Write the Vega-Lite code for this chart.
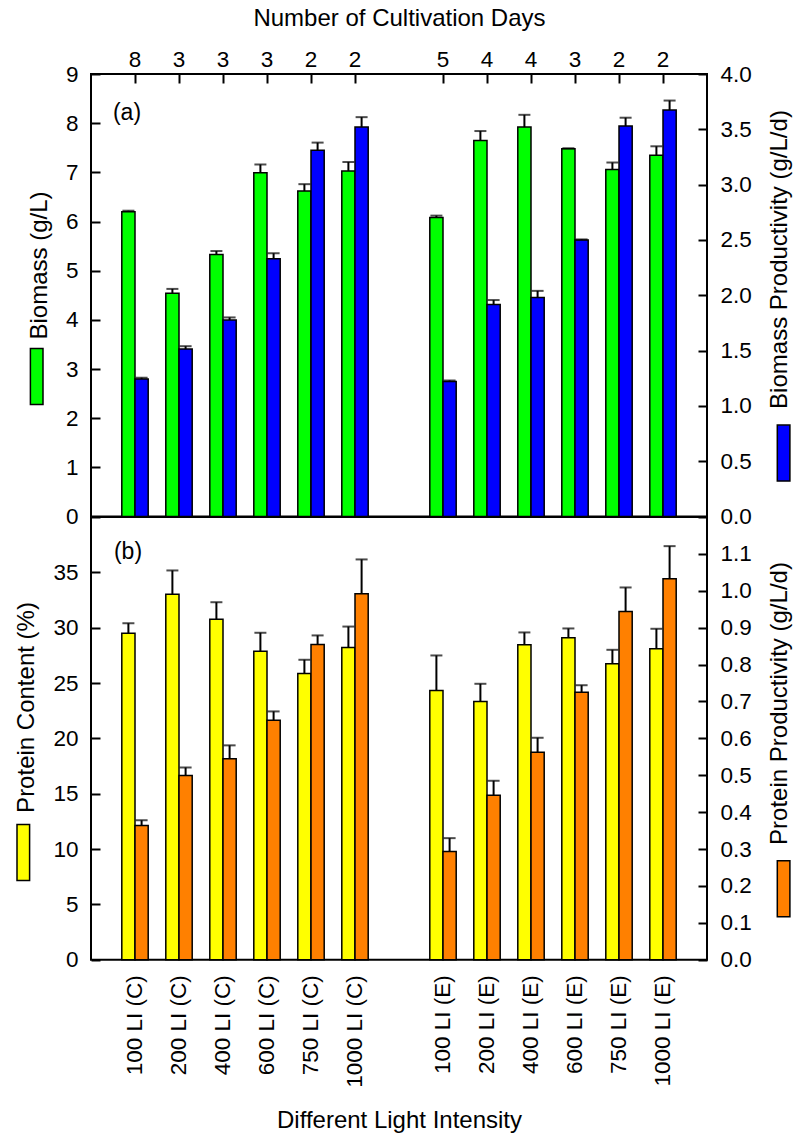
{
  "$schema": "https://vega.github.io/schema/vega-lite/v6.json",
  "padding": {"left": -7, "top": 5, "right": 0, "bottom": 0},
  "spacing": 0,
  "bounds": "flush",
  "config": {
    "font": "Liberation Sans",
    "view": {"stroke": "black", "strokeWidth": 2},
    "axis": {
      "labelFont": "Liberation Sans", "labelFontSize": 22.5, "labelColor": "black",
      "titleFont": "Liberation Sans", "titleFontSize": 24, "titleFontWeight": "normal", "titleColor": "black",
      "grid": false, "domain": false, "tickColor": "black", "tickWidth": 2, "tickSize": 9
    },
    "legend": {"orient": "none", "title": null, "labelOffset": 0, "padding": 0, "labelFontSize": 1, "labelOpacity": 0,
      "symbolType": "M-0.225,-1H0.225V1H-0.225Z", "symbolSize": 3136, "symbolStrokeColor": "black",
      "symbolStrokeWidth": 1.5, "symbolOpacity": 1}
  },
  "datasets": {
    "topL": [
      {"cat": "100 LI (C)", "s": "L", "v": 6.20, "hi": 6.22},
      {"cat": "200 LI (C)", "s": "L", "v": 4.54, "hi": 4.63},
      {"cat": "400 LI (C)", "s": "L", "v": 5.33, "hi": 5.40},
      {"cat": "600 LI (C)", "s": "L", "v": 6.99, "hi": 7.16},
      {"cat": "750 LI (C)", "s": "L", "v": 6.62, "hi": 6.76},
      {"cat": "1000 LI (C)", "s": "L", "v": 7.03, "hi": 7.21},
      {"cat": "100 LI (E)", "s": "L", "v": 6.08, "hi": 6.12},
      {"cat": "200 LI (E)", "s": "L", "v": 7.65, "hi": 7.84},
      {"cat": "400 LI (E)", "s": "L", "v": 7.92, "hi": 8.17},
      {"cat": "600 LI (E)", "s": "L", "v": 7.48, "hi": 7.49},
      {"cat": "750 LI (E)", "s": "L", "v": 7.06, "hi": 7.20},
      {"cat": "1000 LI (E)", "s": "L", "v": 7.35, "hi": 7.53}
    ],
    "topR": [
      {"cat": "100 LI (C)", "s": "R", "v": 1.244, "hi": 1.255},
      {"cat": "200 LI (C)", "s": "R", "v": 1.515, "hi": 1.54},
      {"cat": "400 LI (C)", "s": "R", "v": 1.777, "hi": 1.80},
      {"cat": "600 LI (C)", "s": "R", "v": 2.33, "hi": 2.38},
      {"cat": "750 LI (C)", "s": "R", "v": 3.31, "hi": 3.38},
      {"cat": "1000 LI (C)", "s": "R", "v": 3.52, "hi": 3.61},
      {"cat": "100 LI (E)", "s": "R", "v": 1.22, "hi": 1.23},
      {"cat": "200 LI (E)", "s": "R", "v": 1.916, "hi": 1.957},
      {"cat": "400 LI (E)", "s": "R", "v": 1.98, "hi": 2.04},
      {"cat": "600 LI (E)", "s": "R", "v": 2.50, "hi": 2.505},
      {"cat": "750 LI (E)", "s": "R", "v": 3.53, "hi": 3.605},
      {"cat": "1000 LI (E)", "s": "R", "v": 3.675, "hi": 3.76}
    ],
    "botL": [
      {"cat": "100 LI (C)", "s": "L", "v": 29.5, "hi": 30.4},
      {"cat": "200 LI (C)", "s": "L", "v": 33.03, "hi": 35.17},
      {"cat": "400 LI (C)", "s": "L", "v": 30.77, "hi": 32.3},
      {"cat": "600 LI (C)", "s": "L", "v": 27.88, "hi": 29.54},
      {"cat": "750 LI (C)", "s": "L", "v": 25.86, "hi": 27.1},
      {"cat": "1000 LI (C)", "s": "L", "v": 28.21, "hi": 30.1},
      {"cat": "100 LI (E)", "s": "L", "v": 24.33, "hi": 27.49},
      {"cat": "200 LI (E)", "s": "L", "v": 23.33, "hi": 24.93},
      {"cat": "400 LI (E)", "s": "L", "v": 28.46, "hi": 29.57},
      {"cat": "600 LI (E)", "s": "L", "v": 29.09, "hi": 29.93},
      {"cat": "750 LI (E)", "s": "L", "v": 26.74, "hi": 28.0},
      {"cat": "1000 LI (E)", "s": "L", "v": 28.09, "hi": 29.9}
    ],
    "botR": [
      {"cat": "100 LI (C)", "s": "R", "v": 0.364, "hi": 0.378},
      {"cat": "200 LI (C)", "s": "R", "v": 0.499, "hi": 0.521},
      {"cat": "400 LI (C)", "s": "R", "v": 0.545, "hi": 0.581},
      {"cat": "600 LI (C)", "s": "R", "v": 0.649, "hi": 0.673},
      {"cat": "750 LI (C)", "s": "R", "v": 0.8545, "hi": 0.879},
      {"cat": "1000 LI (C)", "s": "R", "v": 0.992, "hi": 1.085},
      {"cat": "100 LI (E)", "s": "R", "v": 0.2935, "hi": 0.3295},
      {"cat": "200 LI (E)", "s": "R", "v": 0.446, "hi": 0.485},
      {"cat": "400 LI (E)", "s": "R", "v": 0.5626, "hi": 0.6016},
      {"cat": "600 LI (E)", "s": "R", "v": 0.725, "hi": 0.744},
      {"cat": "750 LI (E)", "s": "R", "v": 0.944, "hi": 1.009},
      {"cat": "1000 LI (E)", "s": "R", "v": 1.0325, "hi": 1.121}
    ]
  },
  "vconcat": [
    {
      "width": 616, "height": 442.6,
      "layer": [
        {
          "data": {"name": "topL"},
          "layer": [
            {"mark": {"type": "bar", "stroke": "black", "strokeWidth": 1.5},
             "encoding": {
               "x": {"field": "cat", "type": "nominal",
                     "scale": {"domain": ["100 LI (C)","200 LI (C)","400 LI (C)","600 LI (C)","750 LI (C)","1000 LI (C)","gap","100 LI (E)","200 LI (E)","400 LI (E)","600 LI (E)","750 LI (E)","1000 LI (E)"], "paddingInner": 0.4, "paddingOuter": 0.7},
                     "axis": {"orient": "top", "title": "Number of Cultivation Days",
                              "values": ["100 LI (C)","200 LI (C)","400 LI (C)","600 LI (C)","750 LI (C)","1000 LI (C)","100 LI (E)","200 LI (E)","400 LI (E)","600 LI (E)","750 LI (E)","1000 LI (E)"],
                              "labelExpr": "['8','3','3','3','2','2','5','4','4','3','2','2'][indexof(['100 LI (C)','200 LI (C)','400 LI (C)','600 LI (C)','750 LI (C)','1000 LI (C)','100 LI (E)','200 LI (E)','400 LI (E)','600 LI (E)','750 LI (E)','1000 LI (E)'], datum.value)]",
                              "labelAngle": 0, "tickSize": -9, "labelPadding": 12, "titlePadding": 18}},
               "xOffset": {"field": "s", "type": "nominal", "scale": {"domain": ["L", "R"], "paddingInner": 0, "paddingOuter": 0}},
               "y": {"field": "v", "type": "quantitative", "scale": {"domain": [0, 9], "nice": false},
                     "axis": {"title": "Biomass (g/L)", "values": [0,1,2,3,4,5,6,7,8,9], "tickSize": -9, "labelPadding": 22, "titlePadding": 14, "titleY": 191}},
               "color": {"datum": "Biomass (g/L)", "scale": {"range": ["#00ff00"]},
                         "legend": {"legendX": -83.3, "legendY": 273.6, "labelExpr": "''"}}
             }},
            {"mark": {"type": "rule", "color": "black", "strokeWidth": 2},
             "encoding": {
               "x": {"field": "cat", "type": "nominal"},
               "xOffset": {"field": "s", "type": "nominal"},
               "y": {"field": "v", "type": "quantitative"},
               "y2": {"field": "hi"}
             }},
            {"mark": {"type": "tick", "color": "black", "thickness": 2, "size": 12, "orient": "horizontal"},
             "encoding": {
               "x": {"field": "cat", "type": "nominal"},
               "xOffset": {"field": "s", "type": "nominal"},
               "y": {"field": "hi", "type": "quantitative"}
             }},
            {"data": {"values": [{}]},
             "mark": {"type": "text", "text": "(a)", "font": "Liberation Sans", "fontSize": 23, "color": "black", "dx": -8, "align": "center", "baseline": "middle"},
             "encoding": {
               "x": {"datum": "100 LI (C)", "type": "nominal"},
               "y": {"datum": 8.2, "type": "quantitative"}
             }}
          ]
        },
        {
          "data": {"name": "topR"},
          "layer": [
            {"mark": {"type": "bar", "stroke": "black", "strokeWidth": 1.5},
             "encoding": {
               "x": {"field": "cat", "type": "nominal"},
               "xOffset": {"field": "s", "type": "nominal", "scale": {"domain": ["L", "R"], "paddingInner": 0, "paddingOuter": 0}},
               "y": {"field": "v", "type": "quantitative", "scale": {"domain": [0, 4], "nice": false},
                     "axis": {"orient": "right", "title": "Biomass Productivity (g/L/d)", "values": [0,0.5,1,1.5,2,2.5,3,3.5,4], "format": ".1f",
                              "tickSize": -9, "labelPadding": 22, "titlePadding": 16, "titleAngle": 270, "titleBaseline": "top", "titleY": 185}},
               "color": {"datum": "Biomass Productivity (g/L/d)", "scale": {"range": ["#0000ff"]},
                         "legend": {"legendX": 663.6, "legendY": 350.1, "labelExpr": "''"}}
             }},
            {"mark": {"type": "rule", "color": "black", "strokeWidth": 2},
             "encoding": {
               "x": {"field": "cat", "type": "nominal"},
               "xOffset": {"field": "s", "type": "nominal"},
               "y": {"field": "v", "type": "quantitative"},
               "y2": {"field": "hi"}
             }},
            {"mark": {"type": "tick", "color": "black", "thickness": 2, "size": 12, "orient": "horizontal"},
             "encoding": {
               "x": {"field": "cat", "type": "nominal"},
               "xOffset": {"field": "s", "type": "nominal"},
               "y": {"field": "hi", "type": "quantitative"}
             }}
          ]
        }
      ],
      "resolve": {"scale": {"y": "independent", "color": "independent"}, "axis": {"y": "independent"}, "legend": {"color": "independent"}}
    },
    {
      "width": 616, "height": 442.7,
      "layer": [
        {
          "data": {"name": "botL"},
          "layer": [
            {"mark": {"type": "bar", "stroke": "black", "strokeWidth": 1.5},
             "encoding": {
               "x": {"field": "cat", "type": "nominal",
                     "scale": {"domain": ["100 LI (C)","200 LI (C)","400 LI (C)","600 LI (C)","750 LI (C)","1000 LI (C)","gap","100 LI (E)","200 LI (E)","400 LI (E)","600 LI (E)","750 LI (E)","1000 LI (E)"], "paddingInner": 0.4, "paddingOuter": 0.7},
                     "axis": {"orient": "bottom", "title": "Different Light Intensity",
                              "values": ["100 LI (C)","200 LI (C)","400 LI (C)","600 LI (C)","750 LI (C)","1000 LI (C)","100 LI (E)","200 LI (E)","400 LI (E)","600 LI (E)","750 LI (E)","1000 LI (E)"],
                              "labelAngle": 270, "labelAlign": "right", "labelBaseline": "middle", "ticks": false, "tickSize": 0, "labelPadding": 15, "titlePadding": 21}},
               "xOffset": {"field": "s", "type": "nominal", "scale": {"domain": ["L", "R"], "paddingInner": 0, "paddingOuter": 0}},
               "y": {"field": "v", "type": "quantitative", "scale": {"domain": [0, 40], "nice": false},
                     "axis": {"title": "Protein Content (%)", "values": [0,5,10,15,20,25,30,35], "tickSize": -9, "labelPadding": 22, "titlePadding": 14, "titleY": 190}},
               "color": {"datum": "Protein Content (%)", "scale": {"range": ["#ffff00"]},
                         "legend": {"legendX": -96.7, "legendY": 306.5, "labelExpr": "''"}}
             }},
            {"mark": {"type": "rule", "color": "black", "strokeWidth": 2},
             "encoding": {
               "x": {"field": "cat", "type": "nominal"},
               "xOffset": {"field": "s", "type": "nominal"},
               "y": {"field": "v", "type": "quantitative"},
               "y2": {"field": "hi"}
             }},
            {"mark": {"type": "tick", "color": "black", "thickness": 2, "size": 12, "orient": "horizontal"},
             "encoding": {
               "x": {"field": "cat", "type": "nominal"},
               "xOffset": {"field": "s", "type": "nominal"},
               "y": {"field": "hi", "type": "quantitative"}
             }},
            {"data": {"values": [{}]},
             "mark": {"type": "text", "text": "(b)", "font": "Liberation Sans", "fontSize": 23, "color": "black", "dx": -7, "align": "center", "baseline": "middle"},
             "encoding": {
               "x": {"datum": "100 LI (C)", "type": "nominal"},
               "y": {"datum": 36.8, "type": "quantitative"}
             }}
          ]
        },
        {
          "data": {"name": "botR"},
          "layer": [
            {"mark": {"type": "bar", "stroke": "black", "strokeWidth": 1.5},
             "encoding": {
               "x": {"field": "cat", "type": "nominal"},
               "xOffset": {"field": "s", "type": "nominal", "scale": {"domain": ["L", "R"], "paddingInner": 0, "paddingOuter": 0}},
               "y": {"field": "v", "type": "quantitative", "scale": {"domain": [0, 1.2], "nice": false},
                     "axis": {"orient": "right", "title": "Protein Productivity (g/L/d)", "values": [0,0.1,0.2,0.3,0.4,0.5,0.6,0.7,0.8,0.9,1,1.1], "format": ".1f",
                              "tickSize": -9, "labelPadding": 22, "titlePadding": 16, "titleAngle": 270, "titleBaseline": "top", "titleY": 186}},
               "color": {"datum": "Protein Productivity (g/L/d)", "scale": {"range": ["#ff8000"]},
                         "legend": {"legendX": 663.6, "legendY": 342.8, "labelExpr": "''"}}
             }},
            {"mark": {"type": "rule", "color": "black", "strokeWidth": 2},
             "encoding": {
               "x": {"field": "cat", "type": "nominal"},
               "xOffset": {"field": "s", "type": "nominal"},
               "y": {"field": "v", "type": "quantitative"},
               "y2": {"field": "hi"}
             }},
            {"mark": {"type": "tick", "color": "black", "thickness": 2, "size": 12, "orient": "horizontal"},
             "encoding": {
               "x": {"field": "cat", "type": "nominal"},
               "xOffset": {"field": "s", "type": "nominal"},
               "y": {"field": "hi", "type": "quantitative"}
             }}
          ]
        }
      ],
      "resolve": {"scale": {"y": "independent", "color": "independent"}, "axis": {"y": "independent"}, "legend": {"color": "independent"}}
    }
  ]
}
